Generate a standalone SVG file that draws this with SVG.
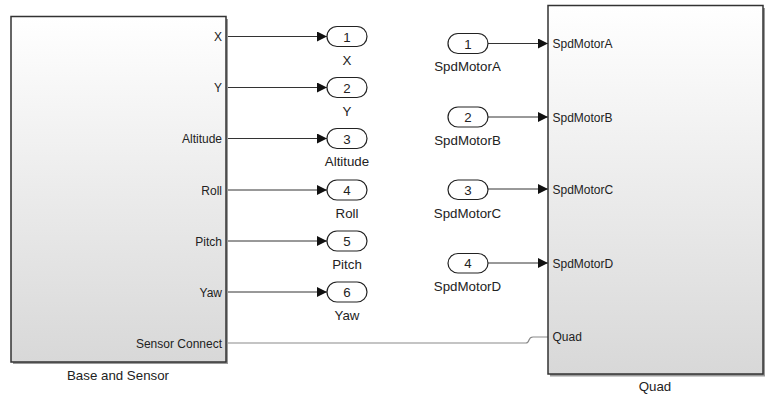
<svg xmlns="http://www.w3.org/2000/svg" width="781" height="412" viewBox="0 0 781 412">
<defs>
<linearGradient id="blk" x1="0" y1="0" x2="0" y2="1">
<stop offset="0" stop-color="#ffffff"/>
<stop offset="1" stop-color="#d8d8d8"/>
</linearGradient>
<marker id="arr" markerWidth="10" markerHeight="10" refX="10" refY="5" orient="auto" markerUnits="userSpaceOnUse">
<path d="M0,0 L10,5 L0,10 Z" fill="#111"/>
</marker>
<style>
text{font-family:"Liberation Sans",Arial,sans-serif;fill:#222}
.plab{font-size:12px}
.lab{font-size:13.3px;text-anchor:middle}
.num{font-size:13.3px;text-anchor:middle}
.blk{fill:url(#blk);stroke:#333;stroke-width:1.5}
.shd{fill:#9a9a9a}
.port{fill:#fff;stroke:#222;stroke-width:1.2}
.sig{fill:none;stroke:#333;stroke-width:1}
.phys{fill:none;stroke:#8a8a8a;stroke-width:1.2}
</style>
</defs>
<g id="connectors">
<path class="sig" d="M226,36.5 H327" marker-end="url(#arr)"/>
<path class="sig" d="M226,87.5 H327" marker-end="url(#arr)"/>
<path class="sig" d="M226,138.5 H327" marker-end="url(#arr)"/>
<path class="sig" d="M226,190 H327" marker-end="url(#arr)"/>
<path class="sig" d="M226,241 H327" marker-end="url(#arr)"/>
<path class="sig" d="M226,292 H327" marker-end="url(#arr)"/>
<path class="sig" d="M488,43.5 H548" marker-end="url(#arr)"/>
<path class="sig" d="M488,117 H548" marker-end="url(#arr)"/>
<path class="sig" d="M488,189 H548" marker-end="url(#arr)"/>
<path class="sig" d="M488,263 H548" marker-end="url(#arr)"/>
<path class="phys" d="M226,343 H526 Q528,343 529,340 Q530,337 533,337 H548"/>
</g>
<g id="base_and_sensor">
<rect class="shd" x="13" y="19" width="215" height="345"/>
<rect class="blk" x="11" y="16.5" width="215" height="345.5"/>
<text class="plab" x="222" y="41" text-anchor="end">X</text>
<text class="plab" x="222" y="92" text-anchor="end">Y</text>
<text class="plab" x="222" y="143" text-anchor="end">Altitude</text>
<text class="plab" x="222" y="194.5" text-anchor="end">Roll</text>
<text class="plab" x="222" y="245.5" text-anchor="end">Pitch</text>
<text class="plab" x="222" y="296.5" text-anchor="end">Yaw</text>
<text class="plab" x="222" y="347.5" text-anchor="end">Sensor Connect</text>
<text class="lab" x="118" y="379.5">Base and Sensor</text>
</g>
<g id="out_X">
<rect class="port" x="327" y="26.5" width="40" height="20" rx="10"/>
<text class="num" x="347" y="41.5">1</text>
<text class="lab" x="347" y="65">X</text>
</g>
<g id="out_Y">
<rect class="port" x="327" y="77.5" width="40" height="20" rx="10"/>
<text class="num" x="347" y="92.5">2</text>
<text class="lab" x="347" y="116">Y</text>
</g>
<g id="out_Altitude">
<rect class="port" x="327" y="128.5" width="40" height="20" rx="10"/>
<text class="num" x="347" y="143.5">3</text>
<text class="lab" x="347" y="166">Altitude</text>
</g>
<g id="out_Roll">
<rect class="port" x="327" y="180" width="40" height="20" rx="10"/>
<text class="num" x="347" y="195">4</text>
<text class="lab" x="347" y="217.5">Roll</text>
</g>
<g id="out_Pitch">
<rect class="port" x="327" y="231" width="40" height="20" rx="10"/>
<text class="num" x="347" y="246">5</text>
<text class="lab" x="347" y="268.5">Pitch</text>
</g>
<g id="out_Yaw">
<rect class="port" x="327" y="282" width="40" height="20" rx="10"/>
<text class="num" x="347" y="297">6</text>
<text class="lab" x="347" y="319.5">Yaw</text>
</g>
<g id="in_SpdMotorA">
<rect class="port" x="448" y="33.5" width="40" height="20" rx="10"/>
<text class="num" x="468" y="48.5">1</text>
<text class="lab" x="467.5" y="71">SpdMotorA</text>
</g>
<g id="in_SpdMotorB">
<rect class="port" x="448" y="107" width="40" height="20" rx="10"/>
<text class="num" x="468" y="122">2</text>
<text class="lab" x="467.5" y="144.5">SpdMotorB</text>
</g>
<g id="in_SpdMotorC">
<rect class="port" x="448" y="180" width="40" height="19.5" rx="10"/>
<text class="num" x="468" y="194.5">3</text>
<text class="lab" x="467.5" y="217.5">SpdMotorC</text>
</g>
<g id="in_SpdMotorD">
<rect class="port" x="448" y="253.5" width="40" height="19.5" rx="10"/>
<text class="num" x="468" y="268">4</text>
<text class="lab" x="467.5" y="291">SpdMotorD</text>
</g>
<g id="quad">
<rect class="shd" x="550" y="8" width="215" height="368.5"/>
<rect class="blk" x="548" y="5.5" width="215" height="368.5"/>
<text class="plab" x="552.5" y="48">SpdMotorA</text>
<text class="plab" x="552.5" y="121.5">SpdMotorB</text>
<text class="plab" x="552.5" y="193.5">SpdMotorC</text>
<text class="plab" x="552.5" y="267.5">SpdMotorD</text>
<text class="plab" x="552.5" y="341">Quad</text>
<text class="lab" x="655" y="391">Quad</text>
</g>
</svg>
